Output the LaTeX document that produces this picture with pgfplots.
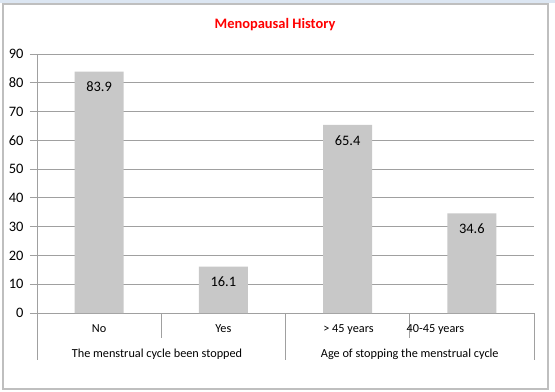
\documentclass[border=0pt]{standalone}
\usepackage{fontspec}
\setmainfont{Carlito}
\usepackage{pgfplots}
\pgfplotsset{compat=1.18}
\definecolor{barc}{HTML}{C8C8C8}
\definecolor{gridc}{HTML}{A0A0A0}
\definecolor{framec}{HTML}{BFBFBF}
\definecolor{chrome}{HTML}{DCE6F2}
\newcommand{\cfont}{\fontsize{14.5}{16}\selectfont}
\newcommand{\lfont}{\fontsize{12.3}{14}\selectfont}
\begin{document}
\begin{tikzpicture}
\fill[white] (-37bp,-79bp) rectangle (518bp,313bp);
\fill[chrome] (-37bp,310bp) rectangle (518bp,313bp);
\draw[framec, line width=1.5bp] (-34bp,-76bp) rectangle (511bp,309bp);
\node[font=\cfont\bfseries, text=red] at (238bp,288bp) {Menopausal History};
\begin{axis}[
  at={(0,0)}, anchor=south west,
  scale only axis, width=497bp, height=259bp,
  xmin=0, xmax=4, ymin=0, ymax=90,
  ytick={0,10,...,90},
  xtick=\empty,
  axis x line*=bottom, axis y line*=left,
  axis line style={gridc, line width=1bp},
  ymajorgrids, grid style={gridc, line width=1bp},
  tick align=outside, major tick length=7bp,
  ytick style={gridc, line width=1bp},
  yticklabel style={font=\cfont, black, xshift=-3bp},
  /pgf/number format/assume math mode=true,
  ybar, bar width=49bp,
  clip=false,
  nodes near coords,
  nodes near coords align=below,
  every node near coord/.append style={yshift=-7bp, font=\cfont, black,
    /pgf/number format/fixed, /pgf/number format/precision=1,
    /pgf/number format/fixed zerofill},
]
\addplot[fill=barc, draw=none] coordinates {(0.5,83.9) (1.5,16.1) (2.5,65.4) (3.5,34.6)};
\draw[gridc, line width=1bp] (axis cs:0,0) -- ++(0,-47bp);
\draw[gridc, line width=1bp] (axis cs:2,0) -- ++(0,-47bp);
\draw[gridc, line width=1bp] (axis cs:4,0) -- ++(0,-47bp);
\draw[gridc, line width=1bp] (axis cs:1,0) -- ++(0,-25bp);
\draw[gridc, line width=1bp] (axis cs:3,0) -- ++(0,-25bp);
\node[font=\lfont, anchor=base] at (axis cs:0.5,0) [yshift=-19bp] {No};
\node[font=\lfont, anchor=base] at (axis cs:1.5,0) [yshift=-19bp] {Yes};
\node[font=\lfont, anchor=base] at (axis cs:2.507,0) [yshift=-19bp] {> 45 years};
\node[font=\lfont, anchor=base] at (axis cs:3.207,0) [yshift=-19bp] {40-45 years};
\node[font=\lfont, anchor=base] at (axis cs:0.966,0) [yshift=-44bp] {The menstrual cycle been stopped};
\node[font=\lfont, anchor=base] at (axis cs:3.0,0) [yshift=-44bp] {Age of stopping the menstrual cycle};
\end{axis}
\end{tikzpicture}
\end{document}
